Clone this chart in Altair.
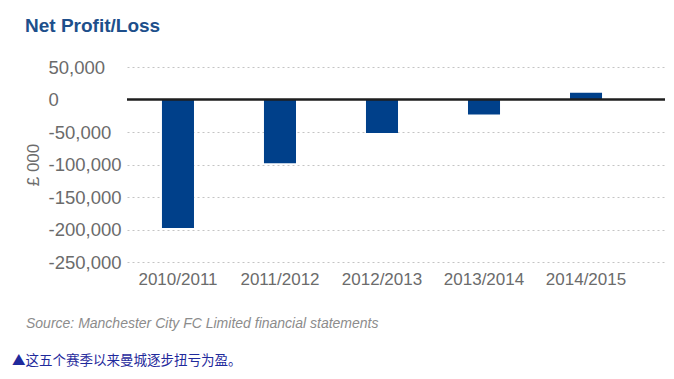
import altair as alt
import pandas as pd

seasons = ["2010/2011", "2011/2012", "2012/2013", "2013/2014", "2014/2015"]
profit = [-197500, -97900, -51600, -23000, 10500]
y_ticks = [-250000, -200000, -150000, -100000, -50000, 0, 50000]

title_text = "Net Profit/Loss"
y_title = "£ 000"
source_text = "Source: Manchester City FC Limited financial statements"
caption_text = "▲这五个赛季以来曼城逐步扭亏为盈。"

df = pd.DataFrame({"season": seasons, "profit": profit})

FONT = "Liberation Sans"
GRAY = "#6b6b6b"

x_enc = alt.X(
    "season:N", sort=seasons, title=None,
    scale=alt.Scale(paddingInner=0.686, paddingOuter=0.48, align=0.357),
    axis=alt.Axis(labelAngle=0, ticks=False, domain=False, labelPadding=9,
                  labelFontSize=17, labelColor=GRAY, labelFont=FONT, grid=False),
)
y_enc = alt.Y(
    "profit:Q", title=y_title,
    scale=alt.Scale(domain=[-250000, 50000], nice=False),
    axis=alt.Axis(values=y_ticks, tickCount=12, ticks=False, domain=False,
                  labelAlign="left", labelPadding=79, labelFontSize=18.5,
                  labelColor=GRAY, labelFont=FONT, labelOverlap=False,
                  labelExpr="replace(format(datum.value, ','), '\u2212', '-')",
                  grid=True, gridDash=[2, 3], gridColor="#c4c4c4", gridWidth=1,
                  titleFontSize=17, titleColor=GRAY, titleFont=FONT,
                  titleFontWeight="normal", titleX=-94, titleY=97.5,
                  titleAlign="center", titleBaseline="middle", titleAngle=270),
)

bars = alt.Chart(df).mark_bar(color="#00408a").encode(x=x_enc, y=y_enc)

zero = alt.Chart(pd.DataFrame({"v": [0]})).mark_rule(
    color="#1e1e1e", strokeWidth=2.5
).encode(y=alt.Y("v:Q"))

src = alt.Chart(pd.DataFrame({"t": [source_text]})).mark_text(
    align="left", baseline="middle", fontStyle="italic", fontSize=14,
    font=FONT, color="#8c8c8c"
).encode(text="t:N", x=alt.value(-101), y=alt.value(257))

cap = alt.Chart(pd.DataFrame({"t": [caption_text]})).mark_text(
    align="left", baseline="middle", fontSize=13.5,
    font="Noto Sans CJK SC", color="#1f2a9c"
).encode(text="t:N", x=alt.value(-115), y=alt.value(294))

chart = alt.layer(bars, zero, src, cap).properties(
    width=538, height=195,
    title=alt.TitleParams(title_text, anchor="start", frame="group",
                          font=FONT, fontSize=19, fontWeight="bold",
                          color="#1d4f8b", dx=-102, dy=-18),
    padding={"left": 119, "top": 59, "right": 1, "bottom": 110},
    autosize=alt.AutoSizeParams(type="none"),
    background="white",
).configure_view(stroke=None)

chart.save("out.html", embed_options={"renderer": "svg", "actions": False})
